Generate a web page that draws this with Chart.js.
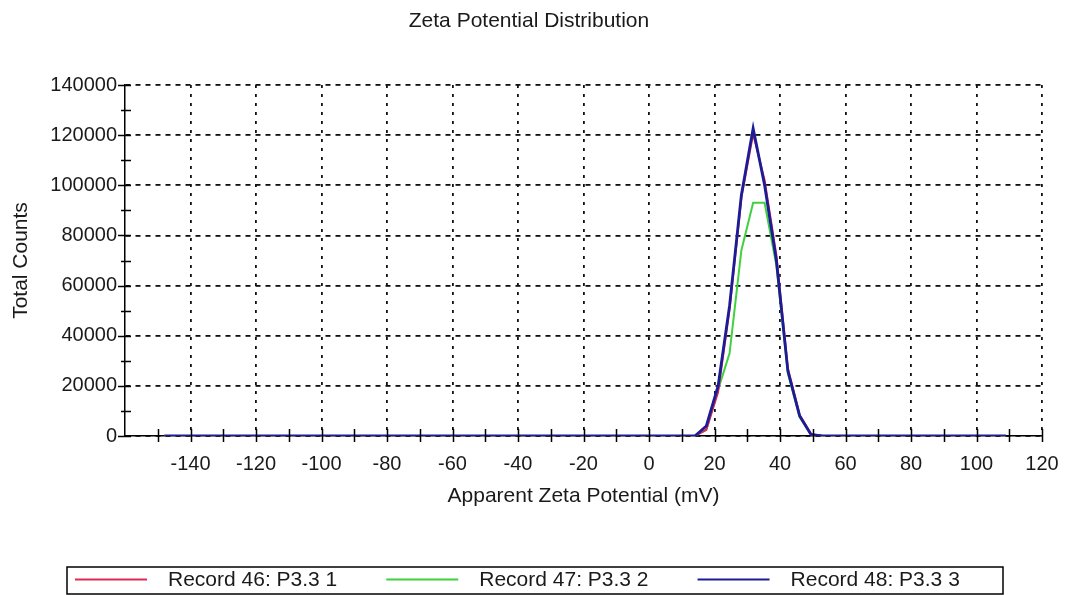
<!DOCTYPE html>
<html>
<head>
<meta charset="utf-8">
<script src="https://cdn.jsdelivr.net/npm/chart.js@4"></script>
<style>
  html, body { margin: 0; padding: 0; background: #fff; }
  canvas { display: block; }
</style>
</head>
<body>
<canvas id="zeta" width="1069" height="595"></canvas>
<script>
// Apparent zeta potential (mV) sample positions shared by all records
const zetaMV = [-148, 10.5, 14.0, 17.5, 21.1, 24.6, 28.2, 31.8, 35.3, 38.9, 42.4, 46.0, 49.5, 53.0, 109];

// Total counts per record
const record46 = [0, 0, 0, 2500, 17500, 50500, 95000, 120500, 102000, 72000, 27000, 8500, 800, 0, 0];
const record47 = [0, 0, 0, 2500, 18500, 33000, 74000, 93000, 93000, 68000, 25000, 7500, 600, 0, 0];
const record48 = [0, 0, 0, 4000, 20000, 52000, 96000, 122700, 100000, 70000, 26000, 8000, 500, 0, 0];

const seriesNames = ['Record 46: P3.3 1', 'Record 47: P3.3 2', 'Record 48: P3.3 3'];
const seriesColors = ['#dc2a55', '#3fd13f', '#1c1c96'];

// Labelled ticks
const xTickValues = [-140, -120, -100, -80, -60, -40, -20, 0, 20, 40, 60, 80, 100, 120];
const yTickValues = [0, 20000, 40000, 60000, 80000, 100000, 120000, 140000];

const X_MINOR = 10;
const Y_MINOR = 10000;
const FONT = '"Liberation Sans", Arial, sans-serif';
const INK = '#1a1a1a';

Chart.defaults.font.family = FONT;
Chart.defaults.color = INK;

const toPoints = ys => zetaMV.map((x, i) => ({ x, y: ys[i] }));

// Tick marks crossing both axes, drawn over the traces
const crossTicks = {
  id: 'crossTicks',
  afterDatasetsDraw(chart) {
    const { ctx, chartArea, scales: { x, y } } = chart;
    ctx.save();
    ctx.strokeStyle = '#000';
    ctx.lineWidth = 1.5;
    ctx.beginPath();
    for (let v = x.min + X_MINOR; v <= x.max + 1e-9; v += X_MINOR) {
      const px = Math.round(x.getPixelForValue(v)) + 0.5;
      ctx.moveTo(px, chartArea.bottom - 7);
      ctx.lineTo(px, chartArea.bottom + 6);
    }
    for (let v = y.min; v <= y.max + 1e-9; v += Y_MINOR) {
      const py = Math.round(y.getPixelForValue(v)) + 0.5;
      const major = v % (2 * Y_MINOR) === 0;
      ctx.moveTo(chartArea.left - (major ? 7 : 4), py);
      ctx.lineTo(chartArea.left + 6, py);
    }
    ctx.stroke();
    ctx.restore();
  }
};

// Boxed legend row under the chart
const boxedLegend = {
  id: 'boxedLegend',
  afterDraw(chart) {
    const { ctx } = chart;
    const box = { x: 67, y: 567, w: 936, h: 27 };
    const midY = box.y + box.h / 2;
    ctx.save();
    ctx.strokeStyle = '#000';
    ctx.lineWidth = 1.5;
    ctx.strokeRect(box.x, box.y, box.w, box.h);
    ctx.font = '21px ' + FONT;
    ctx.textBaseline = 'middle';
    ctx.fillStyle = INK;
    let cx = 75;
    chart.data.datasets.forEach(ds => {
      ctx.strokeStyle = ds.borderColor;
      ctx.lineWidth = 2;
      ctx.beginPath();
      ctx.moveTo(cx, midY - 1);
      ctx.lineTo(cx + 72, midY - 1);
      ctx.stroke();
      const tx = cx + 93;
      ctx.fillText(ds.label, tx, midY);
      cx = tx + ctx.measureText(ds.label).width + 49;
    });
    ctx.restore();
  }
};

const series = [record46, record47, record48];
const drawOrder = [1, 2, 0];

new Chart(document.getElementById('zeta'), {
  type: 'scatter',
  data: {
    datasets: series.map((ys, i) => ({
      label: seriesNames[i],
      data: toPoints(ys),
      showLine: true,
      borderColor: seriesColors[i],
      backgroundColor: seriesColors[i],
      borderWidth: i === 2 ? 2.8 : 2,
      pointRadius: 0,
      pointHoverRadius: 0,
      tension: 0,
      order: drawOrder[i]
    }))
  },
  options: {
    responsive: false,
    animation: false,
    layout: { padding: { left: 16, right: 27, top: 0, bottom: 0 } },
    plugins: {
      legend: { display: false },
      tooltip: { enabled: false },
      title: {
        display: true,
        text: 'Zeta Potential Distribution',
        font: { size: 21, weight: 'normal' },
        color: INK,
        padding: { top: 9, bottom: 50.8 }
      }
    },
    scales: {
      x: {
        type: 'linear',
        min: -160,
        max: 120,
        afterBuildTicks: s => { s.ticks = xTickValues.map(v => ({ value: v })); },
        afterFit: s => { s.height = 159; s.paddingLeft = 0; s.paddingRight = 0; },
        ticks: { font: { size: 20 }, color: INK, padding: 16, maxRotation: 0, autoSkip: false },
        grid: { color: '#111', lineWidth: 1.8, drawTicks: false },
        border: { display: true, color: '#000', width: 1.5, dash: [3, 6] },
        title: {
          display: true,
          text: 'Apparent Zeta Potential (mV)',
          font: { size: 21 },
          color: INK,
          padding: { top: 0, bottom: 86.4 }
        }
      },
      y: {
        type: 'linear',
        min: 0,
        max: 140000,
        afterBuildTicks: s => { s.ticks = yTickValues.map(v => ({ value: v })); },
        afterFit: s => { s.width = 109; s.paddingTop = 0; s.paddingBottom = 0; },
        ticks: { font: { size: 20 }, color: INK, padding: 8, callback: v => String(v) },
        grid: { color: '#111', lineWidth: 1.8, drawTicks: false },
        border: { display: true, color: '#000', width: 1.5, dash: [5, 5] },
        title: {
          display: true,
          text: 'Total Counts',
          font: { size: 21 },
          color: INK,
          padding: { top: -7.6, bottom: 0 }
        }
      }
    }
  },
  plugins: [crossTicks, boxedLegend]
});
</script>
</body>
</html>
